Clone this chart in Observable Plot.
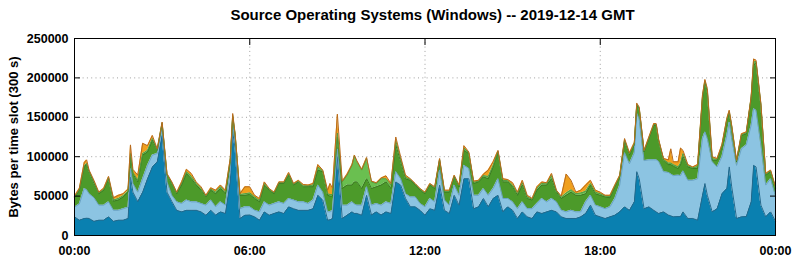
<!DOCTYPE html>
<html><head><meta charset="utf-8">
<script src="https://cdn.jsdelivr.net/npm/d3@7"></script>
<script src="https://cdn.jsdelivr.net/npm/@observablehq/plot@0.6"></script>
<style>
body{margin:0;background:#fff;font-family:"Liberation Sans",Arial,sans-serif;}
#title{height:28px;line-height:29px;font-weight:bold;font-size:15px;text-align:center;width:795px;padding-left:70px;box-sizing:border-box;color:#000}
</style></head><body>
<div id="title">Source Operating Systems (Windows) -- 2019-12-14 GMT</div>
<div id="chart"></div>
<script>
// minutes since 00:00 GMT
const times = [
 0,10,20,25,30,40,50,60,70,80,90,100,110,
 115,120,130,140,150,160,170,180,190,200,210,
 220,230,240,250,260,270,280,290,300,310,320,
 325,330,340,350,360,370,380,390,400,410,420,430,
 440,450,460,470,480,490,500,510,520,525,530,540,
 550,560,570,575,580,590,600,610,620,630,640,650,
 660,670,680,690,700,710,720,730,740,750,760,
 770,780,790,800,810,820,830,840,850,860,870,
 880,890,900,910,920,930,940,950,960,970,980,
 990,1000,1010,1020,1030,1040,1050,1060,1070,1080,1090,
 1100,1110,1120,1130,1140,1150,1155,1160,1170,1180,1190,1195,
 1200,1210,1220,1225,1230,1240,1245,1250,1260,1270,1280,1290,1295,
 1300,1310,1320,1330,1340,1345,1350,1360,1370,1380,1390,1395,
 1400,1410,1420,1430,1440];
// values in thousands of bytes per slot
const darkBlue = [
 23.7,19.5,21.6,22,21.6,18,19.5,19.5,23.7,18,19.5,19.5,21.6,
 74,55,43,55,72,87,93.5,127,55,43,32,
 30,32,32,32,30,25.8,32,26,30,28,68,
 131.5,110,21.6,25.8,26,23.7,19.5,30,25.8,28,30,28,
 36.4,34,32,32,32,34,51,45,19.5,20,21.6,100,
 21.6,25.8,30,28,28,25.8,51,26,30,26,30,28,
 68,64,47,36.4,36.4,32,25.8,34,32,64,32,
 28,51,38.5,72,72,34,36.4,47,36.4,47,51,
 30,36.4,32,21.6,30,23.7,21.6,30,28,30,32,
 30,23.7,21.6,21.6,21.6,23.7,28,38.5,25.8,23.7,21.6,
 23.7,25.8,30,36.4,32,42.7,81,72,34,36.4,32,30,
 28,30,26,25,23.7,24,24,30,21.6,21.6,19.5,51,66,
 51,30,34,53,59.6,87,61.8,21.6,23.7,24,42.7,89,
 87,38.5,23.7,30,18];
const lightBlue = [
 12.3,20.5,38,36,31.4,30,19,19,19,14,12.5,14.5,14.4,
 11,11,12,17,17,15,10.5,9,13,8,10.7,
 10.6,13,10.7,10.7,10.6,12.7,13,10.4,12.7,10.5,13,
 8.5,9,12.4,10.6,10.4,8.3,10.5,12.7,12.7,12.6,12.7,12.6,
 10.6,11,10.7,10.7,8.6,11,13,10,10.5,10,10.4,10,
 16.9,12.7,12.7,12,10.5,12.7,10.8,12.5,10.6,12.5,12.7,12.6,
 13,8,6,12.6,12.6,8.6,10.6,13,10.7,19,13,
 10.5,13,12.5,17,13,17,14.6,12.6,14.6,12.6,21,
 17,10.6,10.7,12.4,12.7,10.3,12.4,10.6,19,12.7,15,
 12.7,8.3,8.4,10.4,8.4,6.3,14.7,12.5,12.7,12.7,12.4,
 12.7,21.2,34,68.6,59,62.3,74,76,61,59.6,64,66,
 66,51,54,53,52.3,52.6,52,52,48.4,48.4,52.5,72,65.5,
 72,63.5,53,47,67.4,57,61.2,67.4,86.3,91,97.3,72,
 72,76.5,40.3,42,32];
const darkGreen = [
 12,17.5,27.4,32,28,18,14.5,19,29.3,11.6,13,15,19,
 15,12,13,30,17,19,4,6,8.6,15,10.3,
 23.4,33.7,29.3,21.3,16.9,10.5,12.5,16.6,16.9,14.5,12.5,
 10.6,8,17,14.6,15.6,15,12.7,21.3,19,12.4,23.3,25.4,
 29.6,19,25.3,19.1,21.4,16.8,19,26,21,20,18,15,
 21.1,25.5,21.3,28,29.5,21.1,10.2,21.1,21.2,25.5,25.3,19,
 34,21.5,19,21,15,16.9,16.6,17,16.9,12.6,10,
 16.5,10.4,10.8,19,19,15,17,14.8,21,27.4,34,
 21,21,19.1,17,21.3,13,11,16.9,17,21.3,25,
 12.3,15,21,23,21,21,10.3,13,14.5,14.6,15,
 11.4,14.8,10.4,15,11,10,10,13,11,27,44,44,
 26,14.6,10,12,12,8.4,14,18,17,15,13,51,63.5,
 59,2.1,8.6,12.5,19,12,15,4.5,17,14,34,55,
 60.5,50,12.6,9,10];
const lightGreen = [
 1,1,1.5,1.5,1,2,1,1,1.5,1.4,2,1.5,1.5,
 4,2,2,2,2,2,1,1,1,1,1,
 2,2.3,3,2,2,1,1.5,2,2.4,2,2,
 1.9,1,1,2,2,2,1.8,2,1,1,1,1,
 1.4,1,1,1.2,1,2.2,4,1,2,2,2,5,
 8.4,12.6,25,33,25.5,23.4,25.7,8.4,4.2,8,4,4.4,
 5,3.5,2,1,1,1,1,1,1,1,1,
 1,1.1,1.2,3,1,1.5,1,1.6,3,2,1,
 2,1.5,2.2,2,3,2,1,2.5,2,1.5,4,
 1.5,1.5,3,3,2,3,3,2,2,2,1,
 1.7,1.2,1.1,1.5,1.5,1.5,1.5,1,1,1,1,1,
 1,1,2,2,2,2,2,4,1.5,1,2.5,2,1.5,
 2,1.9,1,1.5,1,1.5,1,1,1,1,1,4,
 1.5,1.5,1,1,1];
const orange = [
 1,1.5,4.1,4.5,1,2,1,1.5,1.5,2.8,4,2.5,2.5,
 11,4,6.6,13,6,4,1,1,1.1,1,1,
 2,3,3.7,2,2.3,1,1.5,2.5,2,2.5,2.2,
 2.3,1,1,8.8,7.8,2,2.5,2,1.1,1,1,1,
 2,1,1,1.7,1,2,3,1,4.5,14,8,24,
 1,1.4,1,1,1.5,1,1.3,1,1,1,3.7,2,
 5,3,2.6,1,1,1.1,1,1,1.2,1.1,1.5,
 1.5,1.1,1,3,1,1.5,1,1.8,8,4.5,1,
 2,1.5,3,2,3,2,1,1.8,2,1.5,2.7,
 1,1.5,24,12,2,3.5,8,4,2.5,2,1,
 1.5,1,1.1,1.5,1.5,1.5,1.5,1,1,1,1,1,
 1,1.1,4,18,3.5,6.5,19,4,1.5,1,2.5,2,1.5,
 2.5,2.5,1.1,1.5,1.5,1.5,1,1.1,1,1.5,1,4,
 1.5,1,1.1,1,1];

const seriesNames = ["Layer 1","Layer 2","Layer 3","Layer 4","Layer 5"];
const seriesValues = [darkBlue, lightBlue, darkGreen, lightGreen, orange];
const fills = ["#0a80b0","#8cc4e2","#4c9a2a","#6abf50","#f0a01e"];
const edges = ["#25698c","#6aa3c4","#3b7a22","#559c40","#b86a1c"];
const yTicks = [0,50000,100000,150000,200000,250000];
const xTickHours = [0,6,12,18,24];

const base = Date.UTC(2019, 11, 14);
const rows = [], edgeRows = [];
seriesNames.forEach((name, s) => {
  times.forEach((t, i) => {
    const time = new Date(base + t * 60000);
    rows.push({time, key: name, bytes: seriesValues[s][i] * 1000});
    edgeRows.push({time, key: "edge " + name, bytes: seriesValues[s][i] * 1000});
  });
});
const xTicks = xTickHours.map(h => new Date(base + h * 3600000));

const chart = Plot.plot({
  width: 795, height: 232,
  marginTop: 10, marginBottom: 25, marginLeft: 74, marginRight: 20,
  style: {fontFamily: '"Liberation Sans", Arial, sans-serif', fontSize: "12.5px", fontWeight: "bold", color: "#000", background: "#fff"},
  x: {type: "utc", domain: [xTicks[0], xTicks[4]]},
  y: {domain: [0, 250000]},
  color: {domain: [...seriesNames, ...seriesNames.map(n => "edge " + n)], range: [...fills, ...edges]},
  marks: [
    Plot.gridY(yTicks.slice(1, -1), {stroke: "#a0a0a0", strokeOpacity: 1, strokeDasharray: "1,3.3"}),
    Plot.gridX(xTicks.slice(1, -1), {stroke: "#a0a0a0", strokeOpacity: 1, strokeDasharray: "1,3.3"}),
    Plot.areaY(rows, {x: "time", y: "bytes", z: "key", fill: "key", fillOpacity: 1}),
    Plot.lineY(edgeRows, Plot.stackY2({x: "time", y: "bytes", z: "key", stroke: "key", strokeWidth: 1})),
    Plot.frame({stroke: "#000"}),
    Plot.axisY(yTicks, {tickSize: 0, tickPadding: 6, tickFormat: d3.format("d"), label: null}),
    Plot.axisY([], {tickSize: 0, label: "Bytes per time slot (300 s)", labelAnchor: "center", labelArrow: "none", labelOffset: 66, fontSize: 13}),
    Plot.axisY(yTicks, {tickSize: -6, text: null, label: null}),
    Plot.axisY(yTicks, {anchor: "right", tickSize: -6, text: null, label: null}),
    Plot.axisX(xTicks, {tickSize: 0, tickPadding: 11, tickFormat: d3.utcFormat("%H:%M"), label: null}),
    Plot.axisX(xTicks, {anchor: "top", tickSize: -6, text: null, label: null})
  ]
});
document.getElementById("chart").appendChild(chart);
</script>
</body></html>
